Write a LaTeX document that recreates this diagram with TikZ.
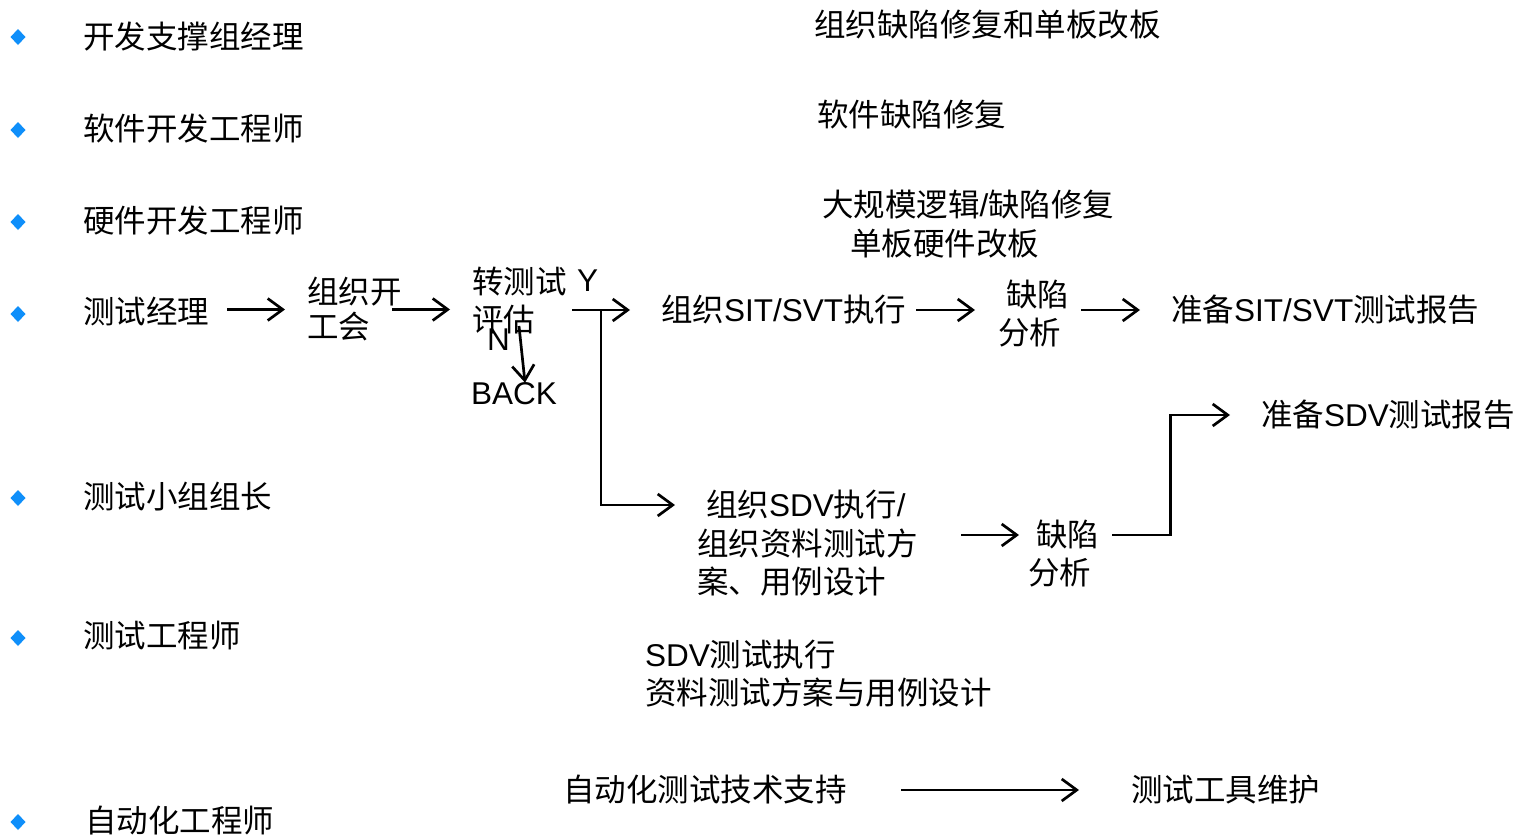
\documentclass[tikz,border=0pt]{standalone}
\usepackage{fontspec}
\setmainfont{Noto Sans CJK SC}
\newfontfamily\latf{Liberation Sans}
\newcommand\en[1]{{\latf #1}}
\usetikzlibrary{arrows.meta}
\definecolor{bul}{HTML}{0F8FFA}
\begin{document}
\begin{tikzpicture}[x=1pt,y=-1pt,
  txt/.style={anchor=west,inner sep=0pt,align=left,font=\fontsize{31.5}{38}\selectfont},
  ln/.style={line width=2.7pt},
  arr/.style={line width=2.7pt,-{Straight Barb[length=15pt,width=22pt]}}]
\useasboundingbox (0,0) rectangle (1516,835);
\fill[white] (0,0) rectangle (1516,835);

% bullets
\foreach \yy/\nm in {37/b1,130/b2,222/b3,314/b4,498/b5,638/b6,822/b7}{
  \coordinate (\nm) at (18,\yy);
  \fill[bul] (\nm) ++(-7.5,0) -- ++(7.5,-8) -- ++(7.5,8) -- ++(-7.5,8) -- cycle;
}

% role labels
\node[txt] (t1) at (83,37) {开发支撑组经理};
\node[txt] (t2) at (83,129) {软件开发工程师};
\node[txt] (t3) at (83,221) {硬件开发工程师};
\node[txt] (t4) at (83,311) {测试经理};
\node[txt] (t5) at (83,497) {测试小组组长};
\node[txt] (t6) at (83,636) {测试工程师};
\node[txt] (t7) at (85,821) {自动化工程师};

% top right tasks
\node[txt] (f1) at (814,25) {组织缺陷修复和单板改板};
\node[txt] (f2) at (817,115) {软件缺陷修复};
\node[txt,font=\fontsize{31.5}{39}\selectfont] (f3) at (822,224.5) {大规模逻辑\en{/}缺陷修复\\\hspace*{28pt}单板硬件改板};

% main flow
\node[txt,font=\fontsize{31.5}{35}\selectfont] (kick) at (307,309.5) {组织开\\工会};
\node[txt] (pg) at (472,301) {转测试\\评估};
\node[txt] (ylab) at (577,281) {\en{Y}};
\node[txt] (nlab) at (487,340) {\en{N}};
\node[txt] (back) at (471,394) {\en{BACK}};
\node[txt] (sit) at (661,310) {组织\en{SIT/SVT}执行};
\node[txt] (q1) at (998,314) {\hspace*{8pt}缺陷\\分析};
\node[txt] (rep1) at (1171,310) {准备\en{SIT/SVT}测试报告};

\node[txt,font=\fontsize{31.5}{38.5}\selectfont] (sdv) at (697,543.5) {\hspace*{9pt}组织\en{SDV}执行\en{/}\\组织资料测试方\\案、用例设计};
\node[txt] (q2) at (1028,554) {\hspace*{8pt}缺陷\\分析};
\node[txt] (rep2) at (1261,415) {准备\en{SDV}测试报告};

\node[txt] (sdvt) at (645,674) {\en{SDV}测试执行\\资料测试方案与用例设计};

\node[txt] (auto) at (563,790) {自动化测试技术支持};
\node[txt] (tool) at (1131,790) {测试工具维护};

% connectors
\coordinate (br) at (601,310);
\coordinate (sdvin) at (675,505);
\coordinate (nst) at (519,326);

\draw[arr] ([xshift=18pt]t4.east |- kick.west) -- ([xshift=-22pt]kick.west);
\draw[arr] ([xshift=-9.5pt]kick.east) -- ([xshift=-22pt]pg.west |- kick.east);
\draw[arr] ([xshift=5.5pt]pg.east |- sit.west) -- ([xshift=-31pt]sit.west);
\draw[arr] (br) |- (sdvin);
\draw[arr] (nst) -- ([xshift=54pt]back.north west);
\draw[arr] ([xshift=10pt]sit.east) -- ([xshift=-23pt]q1.west |- sit.east);
\draw[arr] ([xshift=12pt]q1.east |- rep1.west) -- ([xshift=-31pt]rep1.west);
\draw[arr] ([xshift=43.5pt,yshift=8.5pt]sdv.east) -- ([xshift=-9pt,yshift=19pt]q2.west);
\draw[arr] ([xshift=13pt,yshift=19pt]q2.east) -- ++(58,0) |- ([xshift=-31pt]rep2.west);
\draw[arr] ([xshift=54.5pt]auto.east) -- ([xshift=-52pt]tool.west);
\end{tikzpicture}
\end{document}
